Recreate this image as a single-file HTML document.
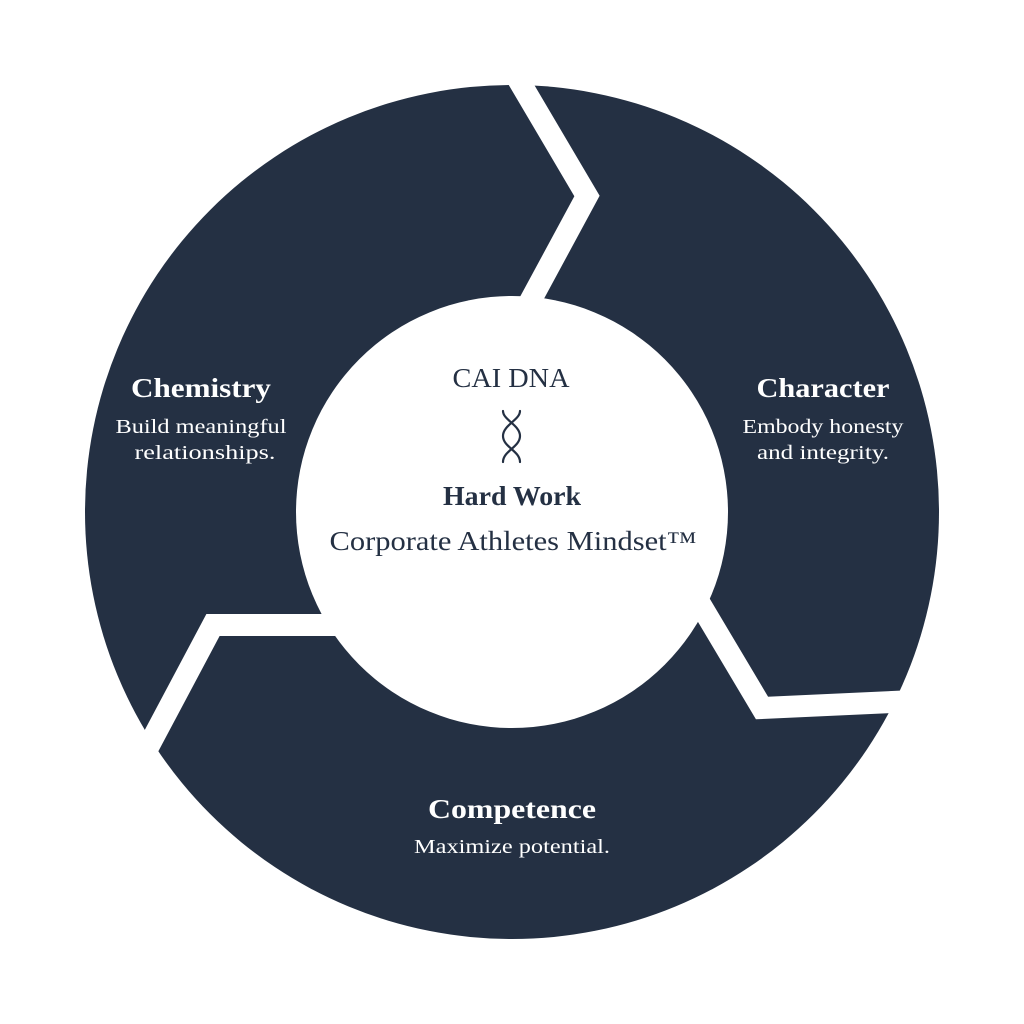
<!DOCTYPE html>
<html><head><meta charset="utf-8"><style>html,body{margin:0;padding:0;background:#fff}svg{display:block}</style></head>
<body>
<svg width="1024" height="1024" viewBox="0 0 1024 1024" xmlns="http://www.w3.org/2000/svg">
<rect width="1024" height="1024" fill="#fff"/>
<circle cx="512" cy="512" r="427" fill="#243043"/>
<g fill="none" stroke="#fff" stroke-width="22" stroke-linejoin="miter" stroke-miterlimit="10">
<polyline points="495,40 587,196 520,320"/>
<polyline points="360,625 213,625 120,800"/>
<polyline points="690,587 762,708 980,698"/>
</g>
<circle cx="512" cy="512" r="216" fill="#fff"/>
<g font-family="Liberation Serif, serif" fill="#fff" text-anchor="middle">
<text x="201" y="397" font-size="27" font-weight="bold" textLength="140" lengthAdjust="spacingAndGlyphs">Chemistry</text>
<text x="201" y="433" font-size="20" textLength="171" lengthAdjust="spacingAndGlyphs">Build meaningful</text>
<text x="205" y="459" font-size="20" textLength="141" lengthAdjust="spacingAndGlyphs">relationships.</text>
<text x="823" y="397" font-size="27" font-weight="bold" textLength="133" lengthAdjust="spacingAndGlyphs">Character</text>
<text x="823" y="433" font-size="20" textLength="161" lengthAdjust="spacingAndGlyphs">Embody honesty</text>
<text x="823" y="459" font-size="20" textLength="132" lengthAdjust="spacingAndGlyphs">and integrity.</text>
<text x="512" y="818" font-size="27" font-weight="bold" textLength="168" lengthAdjust="spacingAndGlyphs">Competence</text>
<text x="512" y="853" font-size="20" textLength="196" lengthAdjust="spacingAndGlyphs">Maximize potential.</text>
</g>
<g font-family="Liberation Serif, serif" fill="#243043" text-anchor="middle">
<text x="511" y="387" font-size="27" textLength="117" lengthAdjust="spacingAndGlyphs">CAI DNA</text>
<text x="512" y="505" font-size="27" font-weight="bold" textLength="138" lengthAdjust="spacingAndGlyphs">Hard Work</text>
<text x="513" y="550" font-size="27" textLength="367" lengthAdjust="spacingAndGlyphs">Corporate Athletes Mindset™</text>
</g>
<g fill="none" stroke="#243043" stroke-width="2.2" stroke-linecap="round">
<path d="M503,411 C503,420 520,425 520,436 C520,447 503,451 503,462"/>
<path d="M520,411 C520,420 503,425 503,436 C503,447 520,451 520,462"/>
</g>
</svg>
</body></html>
